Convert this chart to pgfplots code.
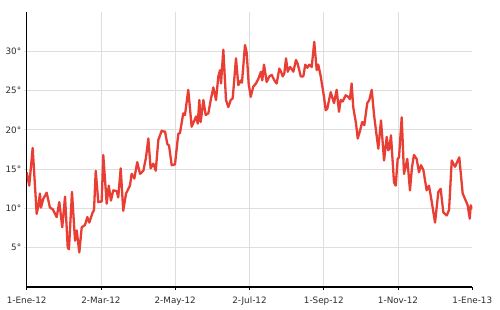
\documentclass[border=0pt]{standalone}
\usepackage{fontspec}
\setmainfont{DejaVu Sans}
\usepackage{pgfplots}
\pgfplotsset{compat=1.18}
\definecolor{linered}{RGB}{232,62,52}
\definecolor{gridgray}{RGB}{222,222,222}
\definecolor{labelgray}{RGB}{45,45,45}
\begin{document}
\begin{tikzpicture}
\useasboundingbox (-26.7pt,-22pt) rectangle (473.3pt,287pt);
\begin{axis}[
  at={(0,0)}, anchor=south west,
  scale only axis, width=445.6pt, height=275pt,
  xmin=0, xmax=366, ymin=0, ymax=35,
  axis x line=bottom, axis y line=left,
  axis line style={-, black, line width=1.3pt},
  xtick={0,61,122,183,244,305},
  xticklabels={1-Ene-12,2-Mar-12,2-May-12,2-Jul-12,1-Sep-12,1-Nov-12},
  extra x ticks={366},
  extra x tick labels={1-Ene-13},
  extra x tick style={grid=none},
  ytick={5,10,15,20,25,30},
  yticklabels={5°,10°,15°,20°,25°,30°},
  grid=major, major grid style={gridgray, line width=0.8pt},
  tick align=outside, major tick length=3pt,
  x tick style={black, line width=0.8pt},
  y tick style={gridgray, line width=0.8pt},
  ticklabel style={font=\fontsize{8.8}{10}\selectfont, text=labelgray},
  xticklabel style={yshift=-3pt},
  yticklabel style={xshift=1pt},
]
\addplot[linered, line width=2.3pt, line join=round, mark=none] table {
x y
0 14.6
2.1 12.9
4.9 17.7
8.2 9.3
9.5 10.3
10.9 11.9
11.7 10.1
13.6 11.2
16.4 12.0
19.1 10.1
21.4 9.9
24.6 8.9
26.8 10.8
29.2 7.6
31.5 11.5
33.7 5.0
34.7 4.8
37.2 12.1
39.7 5.9
41.1 7.2
43.2 4.4
45.2 7.6
47.9 7.9
49.8 8.9
51.4 8.2
54.2 9.5
55.3 9.8
56.7 14.8
58.8 10.8
61.6 10.9
62.9 16.8
65.7 10.6
67.4 12.9
69.2 11.0
71.1 12.3
73.9 12.2
75.2 11.4
77.2 15.1
79.3 9.7
81.6 11.9
84.8 12.9
86.2 14.4
88.4 13.8
90.8 15.9
93.1 14.4
95.8 14.8
98.0 16.5
99.9 18.9
101.8 15.1
104.0 15.7
106.0 14.8
108.1 18.7
110.9 19.9
112.2 19.8
113.6 19.8
115.5 18.2
116.9 18.0
119.1 15.5
121.8 15.6
124.5 19.5
125.9 19.6
128.6 22.1
130.0 21.9
132.7 25.1
135.5 20.4
137.7 21.2
139.1 21.7
140.5 20.8
141.8 23.8
142.9 21.0
145.1 23.8
147.0 21.9
149.2 22.1
151.4 24.0
153.3 25.4
155.5 23.8
157.4 26.8
158.8 27.6
159.6 25.9
161.5 30.2
163.7 23.8
165.6 22.9
167.6 23.8
169.2 24.0
171.9 29.1
173.8 25.7
176.0 26.3
176.8 26.0
179.3 30.8
180.7 29.8
182.3 25.9
184.0 24.2
186.1 25.5
188.3 25.9
190.6 26.6
192.4 27.4
193.5 26.3
194.9 28.3
197.1 26.1
199.3 26.8
201.2 27.0
203.4 26.3
205.3 25.9
207.5 27.8
208.9 27.4
210.3 26.8
211.6 27.2
213.0 29.1
214.4 27.4
216.3 28.0
217.9 27.7
219.0 27.4
221.2 28.9
222.6 28.4
225.1 26.8
227.2 26.8
228.8 28.3
230.5 27.9
232.1 28.3
234.1 28.0
236.2 31.2
238.2 27.6
239.5 28.3
241.5 26.8
244.2 24.2
245.6 22.5
246.9 22.7
249.7 24.8
252.4 23.4
254.6 25.1
256.5 22.3
257.9 23.8
259.5 23.6
262.0 24.4
264.1 24.2
265.5 23.9
266.9 25.9
268.2 22.9
270.5 20.8
271.9 18.9
273.8 19.9
275.6 21.0
277.3 20.6
279.7 23.4
281.4 23.8
283.4 25.1
285.3 21.9
286.9 19.9
288.8 17.6
291.0 21.2
293.5 16.1
295.7 19.1
297.0 17.4
297.8 17.6
299.2 19.3
301.7 13.3
303.1 12.9
304.7 16.3
305.8 16.5
308.0 21.6
309.9 14.4
312.6 16.3
314.8 12.3
316.5 15.3
318.1 16.8
320.3 16.3
322.2 14.6
323.9 15.5
325.8 14.9
328.5 12.3
330.4 12.9
332.1 11.4
335.4 8.2
338.1 12.1
340.0 12.5
342.2 9.5
345.0 9.1
346.9 9.8
349.1 16.1
351.8 15.3
355.3 16.5
358.1 11.9
360.6 11.0
362.2 10.4
363.9 8.7
364.7 10.4
366 9.9
};
\end{axis}
\end{tikzpicture}
\end{document}
